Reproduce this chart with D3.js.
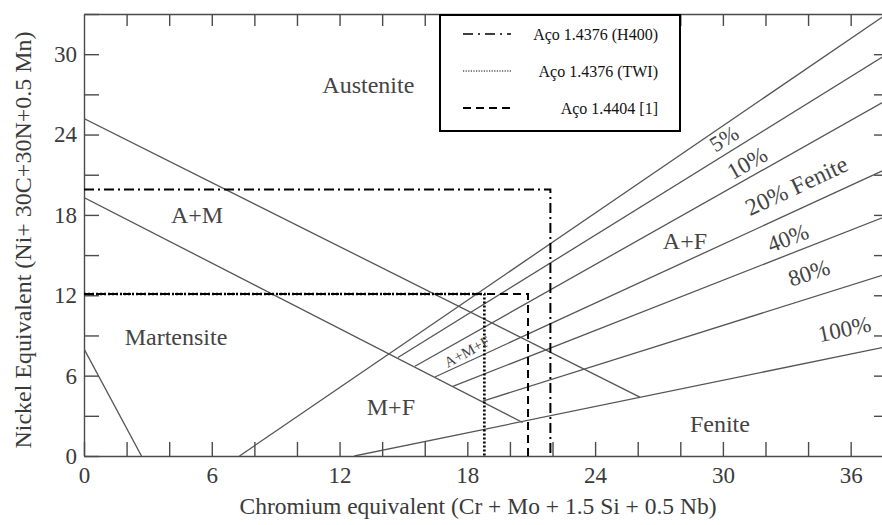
<!DOCTYPE html>
<html>
<head>
<meta charset="utf-8">
<script src="https://cdn.jsdelivr.net/npm/d3@7"></script>
<style>
    body { margin: 0; background: #fff; }
    svg { display: block; font-family: "Liberation Serif", "Times New Roman", serif; }
    .axis path, .axis line { stroke: #4a4a4a; stroke-width: 1.4; }
    .phase { fill: none; stroke: #555; stroke-width: 1.3; }
    .steel { fill: none; stroke: #000; }
</style>
</head>
<body>
<div id="container"></div>
<script>

// phase boundaries of the diagram (Cr eq, Ni eq)
var austeniteLine = [[0, 25.2], [26.1, 4.4]];
var martensiteLine = [[0, 19.3], [20.6, 2.5]];
var cornerLine = [[0, 8.0], [2.7, 0]];

// iso-ferrite lines
var ferrite0 = [[7.3, 0], [37.6, 32.9]];
var ferrite5 = [[14.74, 7.35], [37.5, 29.8]];
var ferrite10 = [[15.54, 6.7], [37.5, 26.4]];
var ferrite20 = [[16.48, 5.9], [37.5, 21.3]];
var ferrite40 = [[17.32, 5.2], [37.5, 17.8]];
var ferrite80 = [[18.73, 4.1], [37.5, 13.5]];
var ferrite100 = [[12.7, 0], [37.5, 8.1]];

// steels
var steelH400 = [[0, 19.9], [21.9, 19.9], [21.9, 0]];
var steelTWI = [[0, 12.1], [18.8, 12.1], [18.8, 0]];
var steel4404 = [[0, 12.1], [20.85, 12.1], [20.85, 0]];

var legendNames = ["Aço 1.4376 (H400)", "Aço 1.4376 (TWI)", "Aço 1.4404 [1]"];

// tick labels
var xLabels = [0, 6, 12, 18, 24, 30, 36];
var yLabels = [0, 6, 12, 18, 24, 30];
var xMinor = [0, 2, 4, 6, 8, 10, 12, 14, 16, 18, 20, 22, 24, 26, 28, 30, 32, 34, 36];
var yMinor = [0, 3, 6, 9, 12, 15, 18, 21, 24, 27, 30, 33];

// region names (text, Cr eq, Ni eq, angle)
var regionNames = [
    ["Austenite", 13.35, 27.7, 0],
    ["A+M", 5.31, 18.0, 0],
    ["Martensite", 4.32, 8.9, 0],
    ["M+F", 14.41, 3.7, 0],
    ["A+F", 28.22, 16.1, 0],
    ["Fenite", 29.86, 2.4, 0]
];
// ferrite labels (text, Cr eq, Ni eq, angle, size)
var ferriteNames = [
    ["A+M+F", 17.98, 7.8, -29, 15],
    ["5%", 30.05, 23.7, -32, 22],
    ["10%", 31.13, 21.9, -30, 23],
    ["20% Fenite", 33.45, 20.2, -25, 24],
    ["40%", 33.05, 16.3, -21, 23],
    ["80%", 34.04, 13.7, -18, 23],
    ["100%", 35.7, 9.5, -12, 23]
];

var width = 882, height = 525;

var svg = d3.select("#container").append("svg")
    .attr("width", width)
    .attr("height", height);

var x = d3.scaleLinear().domain([0, 37.8]).range([84, 889]);
var y = d3.scaleLinear().domain([0, 33]).range([456, 14]);

var line = d3.line()
    .x(function (d) { return x(d[0]); })
    .y(function (d) { return y(d[1]); });

/**
 * axes (ticks inside on all four sides)
 */
var fmt = function (d) { return xLabels.indexOf(d) >= 0 ? d : ""; };

var styleAxis = function (g) {
    g.attr("font-family", "Liberation Serif, serif")
        .attr("font-size", 23);
    g.selectAll("text").attr("fill", "#3a3a3a");
};

svg.append("g")
    .attr("class", "axis")
    .attr("transform", "translate(0," + y(0) + ")")
    .call(d3.axisBottom(x).tickValues(xMinor).tickSize(-14).tickSizeOuter(0).tickPadding(11).tickFormat(fmt))
    .call(styleAxis);

svg.append("g")
    .attr("class", "axis")
    .attr("transform", "translate(0," + y(33) + ")")
    .call(d3.axisTop(x).tickValues(xMinor.slice(1)).tickSize(-12).tickSizeOuter(0).tickFormat(""));

svg.append("g")
    .attr("class", "axis")
    .attr("transform", "translate(" + x(0) + ",0)")
    .call(d3.axisLeft(y).tickValues(yMinor).tickSize(-15).tickSizeOuter(0).tickPadding(7)
        .tickFormat(function (d) { return yLabels.indexOf(d) >= 0 ? d : ""; }))
    .call(styleAxis);

svg.append("g")
    .attr("class", "axis")
    .attr("transform", "translate(" + x(37.8) + ",0)")
    .call(d3.axisRight(y).tickValues(yMinor.slice(1, -1)).tickSize(-15).tickSizeOuter(0).tickFormat(""));

/**
 * phase lines
 */
svg.append("clipPath").attr("id", "plot")
    .append("rect")
    .attr("x", x(0)).attr("y", y(33))
    .attr("width", x(37.8) - x(0)).attr("height", y(0) - y(33));

var phases = svg.append("g").attr("clip-path", "url(#plot)");

[austeniteLine, martensiteLine, cornerLine, ferrite0, ferrite5, ferrite10,
    ferrite20, ferrite40, ferrite80, ferrite100].forEach(function (d) {
    phases.append("path")
        .datum(d)
        .attr("class", "phase")
        .attr("d", line);
});

/**
 * steel compositions
 */
var steels = [
    {data: steelH400, dash: "10,4,2,4", w: 2},
    {data: steel4404, dash: "8,5", w: 2},
    {data: steelTWI, dash: "2,2", w: 2.6}
];

steels.forEach(function (s) {
    svg.append("path")
        .datum(s.data)
        .attr("class", "steel")
        .attr("stroke-width", s.w)
        .attr("stroke-dasharray", s.dash)
        .attr("d", line);
});

/**
 * labels
 */
svg.selectAll(".region")
    .data(regionNames)
    .enter().append("text")
    .attr("class", "region")
    .attr("fill", "#444")
    .attr("font-size", "24px")
    .attr("text-anchor", "middle")
    .attr("dy", "0.35em")
    .attr("transform", function (d) {
        return "translate(" + x(d[1]) + "," + y(d[2]) + ") rotate(" + d[3] + ")";
    })
    .text(function (d) { return d[0]; });

svg.selectAll(".pct")
    .data(ferriteNames)
    .enter().append("text")
    .attr("class", "pct")
    .attr("fill", "#444")
    .attr("font-size", function (d) { return d[4] + "px"; })
    .attr("text-anchor", "middle")
    .attr("dy", "0.35em")
    .attr("transform", function (d) {
        return "translate(" + x(d[1]) + "," + y(d[2]) + ") rotate(" + d[3] + ")";
    })
    .text(function (d) { return d[0]; });

// axis titles
svg.append("text")
    .attr("x", 478)
    .attr("y", 514)
    .attr("text-anchor", "middle")
    .attr("fill", "#3a3a3a")
    .attr("font-size", "23.5px")
    .text("Chromium equivalent (Cr + Mo + 1.5 Si + 0.5 Nb)");

svg.append("text")
    .attr("transform", "translate(31,240) rotate(-90)")
    .attr("text-anchor", "middle")
    .attr("fill", "#3a3a3a")
    .attr("font-size", "24px")
    .text("Nickel Equivalent (Ni+ 30C+30N+0.5 Mn)");

/**
 * legend
 */
var key = svg.append("g")
    .attr("transform", "translate(440,15)");

key.append("rect")
    .attr("width", 240)
    .attr("height", 116)
    .attr("fill", "#fff")
    .attr("stroke", "#000")
    .attr("stroke-width", 2);

var keyStyles = [
    {dash: "10,5,2,5", w: 1.6},
    {dash: "1.2,1.4", w: 1.2},
    {dash: "8,5", w: 1.8}
];

legendNames.forEach(function (name, i) {
    var row = key.append("g")
        .attr("transform", "translate(0," + (19 + i * 37) + ")");
    row.append("line")
        .attr("x1", 23).attr("x2", 71)
        .attr("stroke", "#000")
        .attr("stroke-width", keyStyles[i].w)
        .attr("stroke-dasharray", keyStyles[i].dash);
    row.append("text")
        .attr("x", 218)
        .attr("dy", "0.35em")
        .attr("text-anchor", "end")
        .attr("font-size", "16px")
        .attr("fill", "#111")
        .text(name);
});

</script>
</body>
</html>
